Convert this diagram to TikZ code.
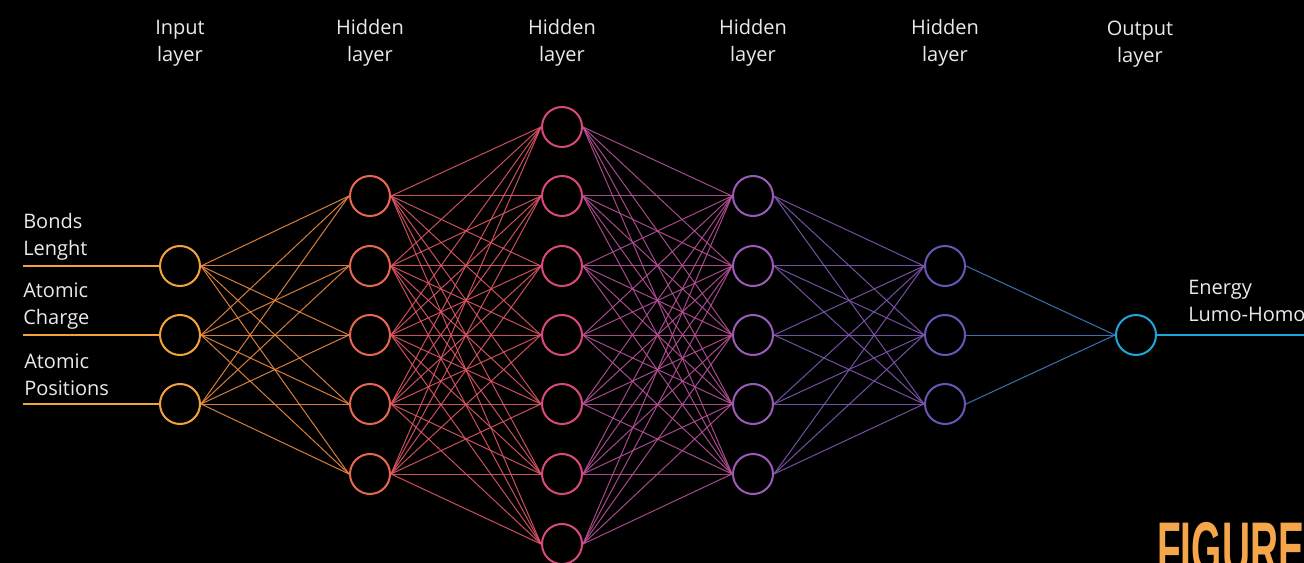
\documentclass[tikz,border=0pt]{standalone}
\usepackage{fontspec}
\setmainfont{Open Sans}
\newfontfamily\figfont{Liberation Sans}
\definecolor{cIn}{HTML}{F2A33A}
\definecolor{cH1}{HTML}{E8674E}
\definecolor{cH2}{HTML}{D9477C}
\definecolor{cH3}{HTML}{9C5AB8}
\definecolor{cH4}{HTML}{6756B3}
\definecolor{cOut}{HTML}{1DA6D9}
\definecolor{txt}{HTML}{EAEAEA}
\definecolor{figc}{HTML}{F5A54A}
\begin{document}
\begin{tikzpicture}[x=0.75pt,y=-0.75pt,
  neuron/.style={circle,draw,line width=1.5pt,minimum size=30pt,inner sep=0pt},
  edge/.style={line width=0.75pt,opacity=0.9},
  inline/.style={line width=1.5pt},
  lbl/.style={text=txt,font=\fontsize{15}{20}\selectfont,align=center,inner sep=0pt},
  side/.style={text=txt,font=\fontsize{15}{20}\selectfont,align=left,inner sep=0pt,anchor=west}]
\fill[black] (0,0) rectangle (1304,563);
\useasboundingbox (0,0) rectangle (1304,563);
% layer titles
\node[lbl] (t1) at (180,43) {Input\\layer};
\node[lbl] (t2) at (370,43) {Hidden\\layer};
\node[lbl] (t3) at (562,43) {Hidden\\layer};
\node[lbl] (t4) at (753,43) {Hidden\\layer};
\node[lbl] (t5) at (945,43) {Hidden\\layer};
\node[lbl] (t6) at (1140,44) {Output\\layer};
% neurons
\foreach \y [count=\i] in {266,335,404} \node[neuron,draw=cIn] (A\i) at (180,\y) {};
\foreach \y [count=\i] in {196,266,335,404,474} \node[neuron,draw=cH1] (B\i) at (370,\y) {};
\foreach \y [count=\i] in {127,196,266,335,404,474,544} \node[neuron,draw=cH2] (C\i) at (562,\y) {};
\foreach \y [count=\i] in {196,266,335,404,474} \node[neuron,draw=cH3] (D\i) at (753,\y) {};
\foreach \y [count=\i] in {266,335,404} \node[neuron,draw=cH4] (E\i) at (945,\y) {};
\node[neuron,draw=cOut] (F1) at (1136,335) {};
% edges
\foreach \i in {1,...,3} \foreach \j in {1,...,5} \draw[edge,color=cIn!60!cH1] (A\i.east) -- (B\j.west);
\foreach \i in {1,...,5} \foreach \j in {1,...,7} \draw[edge,color=cH1!50!cH2] (B\i.east) -- (C\j.west);
\foreach \i in {1,...,7} \foreach \j in {1,...,5} \draw[edge,color=cH2!50!cH3] (C\i.east) -- (D\j.west);
\foreach \i in {1,...,5} \foreach \j in {1,...,3} \draw[edge,color=cH3!50!cH4] (D\i.east) -- (E\j.west);
\foreach \i in {1,...,3} \draw[edge,color=cH4!50!cOut] (E\i.east) -- (F1.west);
% inputs
\coordinate (i1) at (23,266);
\coordinate (i2) at (23,335);
\coordinate (i3) at (23,404);
\draw[inline,cIn] (i1) -- (A1.west);
\draw[inline,cIn] (i2) -- (A2.west);
\draw[inline,cIn] (i3) -- (A3.west);
\node[side] (s1) at (23,237) {Bonds\\Lenght};
\node[side] (s2) at (23,306) {Atomic\\Charge};
\node[side] (s3) at (24,375) {Atomic\\Positions};
% output
\coordinate (o1) at (1304,335);
\draw[inline,cOut] (F1.east) -- (o1);
\node[side] (s4) at (1188,301) {Energy\\Lumo-Homo};
% watermark
\node[anchor=base west,inner sep=0pt,text=figc] (fig) at (1157,574)
  {\scalebox{0.52}[1]{\figfont\bfseries\fontsize{56}{56}\selectfont FIGURE}};
\end{tikzpicture}
\end{document}
